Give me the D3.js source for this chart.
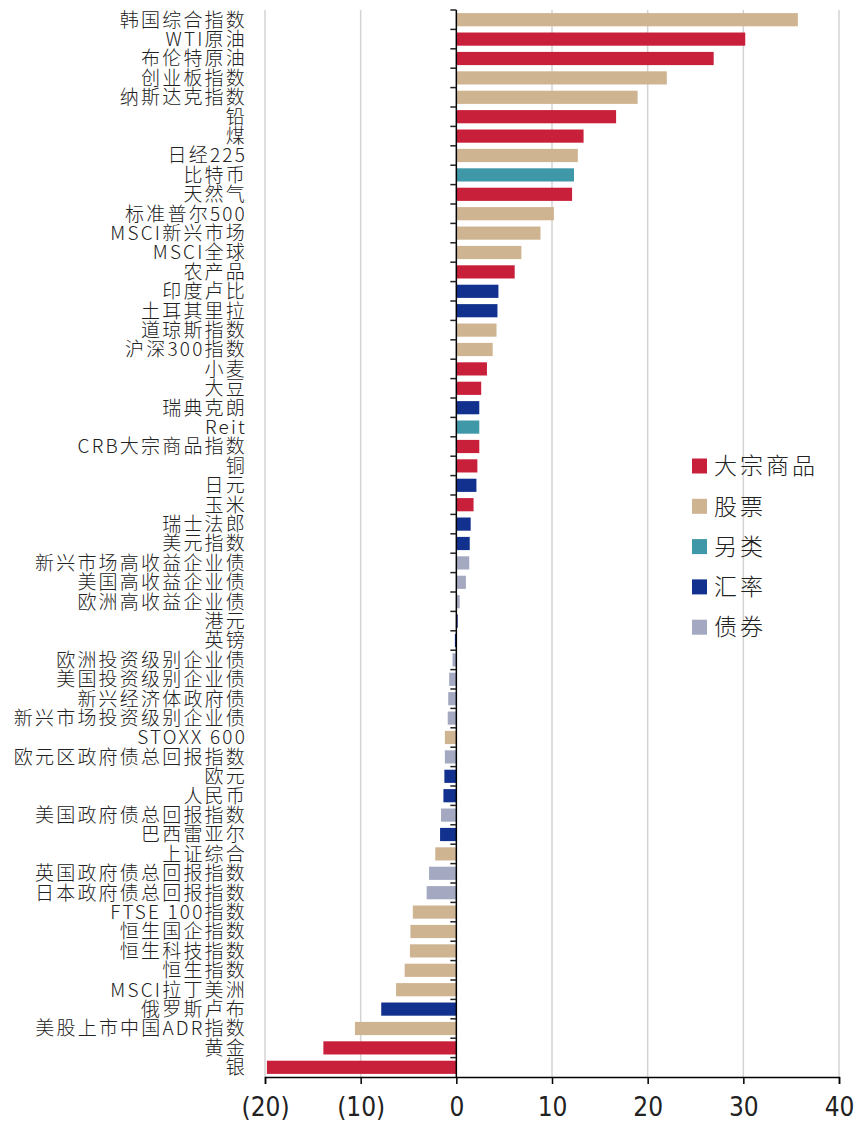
<!DOCTYPE html>
<html>
<head>
<meta charset="utf-8">
<script src="https://cdn.jsdelivr.net/npm/d3@7"></script>
<style>
  body { margin: 0; background: #fff; }
  .lbl { font-family: "Noto Sans CJK SC", "Noto Sans", sans-serif; font-size: 19px; font-weight: 300; letter-spacing: 2.2px; fill: #222; }
  .tick text { font-family: "Liberation Sans Narrow", "DejaVu Sans Condensed", sans-serif; font-size: 26px; fill: #222; }
  .leg { font-family: "Noto Sans CJK SC", sans-serif; font-size: 23px; font-weight: 300; letter-spacing: 3px; fill: #222; }
</style>
</head>
<body>
<div id="chart"></div>
<script>
// categories, top to bottom
const categories = ["韩国综合指数","WTI原油","布伦特原油","创业板指数","纳斯达克指数","铅","煤","日经225","比特币","天然气",
  "标准普尔500","MSCI新兴市场","MSCI全球","农产品","印度卢比","土耳其里拉","道琼斯指数","沪深300指数","小麦","大豆",
  "瑞典克朗","Reit","CRB大宗商品指数","铜","日元","玉米","瑞士法郎","美元指数","新兴市场高收益企业债","美国高收益企业债",
  "欧洲高收益企业债","港元","英镑","欧洲投资级别企业债","美国投资级别企业债","新兴经济体政府债","新兴市场投资级别企业债","STOXX 600","欧元区政府债总回报指数","欧元",
  "人民币","美国政府债总回报指数","巴西雷亚尔","上证综合","英国政府债总回报指数","日本政府债总回报指数","FTSE 100指数","恒生国企指数","恒生科技指数","恒生指数",
  "MSCI拉丁美洲","俄罗斯卢布","美股上市中国ADR指数","黄金","银"];
const values = [35.7,30.2,26.9,22.0,18.95,16.7,13.3,12.7,12.3,12.1,
  10.2,8.8,6.8,6.1,4.4,4.3,4.2,3.8,3.2,2.6,
  2.4,2.4,2.4,2.2,2.1,1.8,1.5,1.4,1.35,1.0,
  0.35,0.15,-0.15,-0.4,-0.75,-0.85,-0.9,-1.2,-1.2,-1.25,
  -1.35,-1.6,-1.7,-2.2,-2.85,-3.1,-4.55,-4.8,-4.85,-5.4,
  -6.3,-7.85,-10.6,-13.9,-19.8];
const groups = ["股票","大宗商品","大宗商品","股票","股票","大宗商品","大宗商品","股票","另类","大宗商品",
  "股票","股票","股票","大宗商品","汇率","汇率","股票","股票","大宗商品","大宗商品",
  "汇率","另类","大宗商品","大宗商品","汇率","大宗商品","汇率","汇率","债券","债券",
  "债券","汇率","汇率","债券","债券","债券","债券","股票","债券","汇率",
  "汇率","债券","汇率","股票","债券","债券","股票","股票","股票","股票",
  "股票","汇率","股票","大宗商品","大宗商品"];
const legendNames = ["大宗商品","股票","另类","汇率","债券"];
const legendColors = ["#c8203a","#cfb491","#3e98a8","#12318f","#a4a9c1"];
const xTicks = [-20,-10,0,10,20,30,40];

const width = 854, height = 1127;
const svg = d3.select("#chart").append("svg")
  .attr("width", width).attr("height", height);

const x = d3.scaleLinear().domain([-20, 40]).range([265, 839]);
const y = d3.scaleBand().domain(categories).range([10, 1077]).paddingInner(0.32).paddingOuter(0.16);
const color = d3.scaleOrdinal().domain(legendNames).range(legendColors);

// grid
svg.append("g").selectAll("line")
  .data(xTicks.filter(d => d !== 0))
  .join("line")
  .attr("x1", d => x(d)).attr("x2", d => x(d))
  .attr("y1", 10).attr("y2", 1077)
  .attr("stroke", "#d3d3d3").attr("stroke-width", 1.5);

// bars
svg.append("g").selectAll("rect")
  .data(categories)
  .join("rect")
  .attr("x", (d, i) => x(Math.min(0, values[i])))
  .attr("y", d => y(d))
  .attr("width", (d, i) => Math.abs(x(values[i]) - x(0)))
  .attr("height", y.bandwidth())
  .attr("fill", (d, i) => color(groups[i]));

// category labels
svg.append("g").selectAll("text")
  .data(categories)
  .join("text")
  .attr("class", "lbl")
  .attr("x", 247)
  .attr("y", d => y(d) + y.bandwidth() / 2)
  .attr("dy", "0.36em")
  .attr("text-anchor", "end")
  .text(d => d);

// zero axis with category ticks
const zero = svg.append("g");
zero.append("line")
  .attr("x1", x(0)).attr("x2", x(0)).attr("y1", 10).attr("y2", 1077)
  .attr("stroke", "#000").attr("stroke-width", 1.5);
zero.selectAll("line.ct")
  .data(categories)
  .join("line")
  .attr("class", "ct")
  .attr("x1", x(0) - 6).attr("x2", x(0))
  .attr("y1", d => y(d) - y.step() * y.paddingInner() / 2)
  .attr("y2", d => y(d) - y.step() * y.paddingInner() / 2)
  .attr("stroke", "#222").attr("stroke-width", 1.5);

// bottom axis
const xAxis = d3.axisBottom(x)
  .tickValues(xTicks)
  .tickSize(7)
  .tickPadding(14)
  .tickFormat(d => d < 0 ? "(" + Math.abs(d) + ")" : d);
const ax = svg.append("g")
  .attr("transform", "translate(0,1077)")
  .call(xAxis);
ax.select(".domain").attr("stroke", "#000").attr("stroke-width", 1.5);
ax.selectAll(".tick line").attr("stroke", "#000").attr("stroke-width", 1.5);

// legend
const leg = svg.append("g").attr("transform", "translate(692,466)");
const item = leg.selectAll("g")
  .data(legendNames)
  .join("g")
  .attr("transform", (d, i) => `translate(0,${i * 40.3})`);
item.append("rect")
  .attr("x", 0).attr("y", -7.5)
  .attr("width", 15).attr("height", 15)
  .attr("fill", d => color(d));
item.append("text")
  .attr("class", "leg")
  .attr("x", 22).attr("dy", "0.36em")
  .text(d => d);
</script>
</body>
</html>
